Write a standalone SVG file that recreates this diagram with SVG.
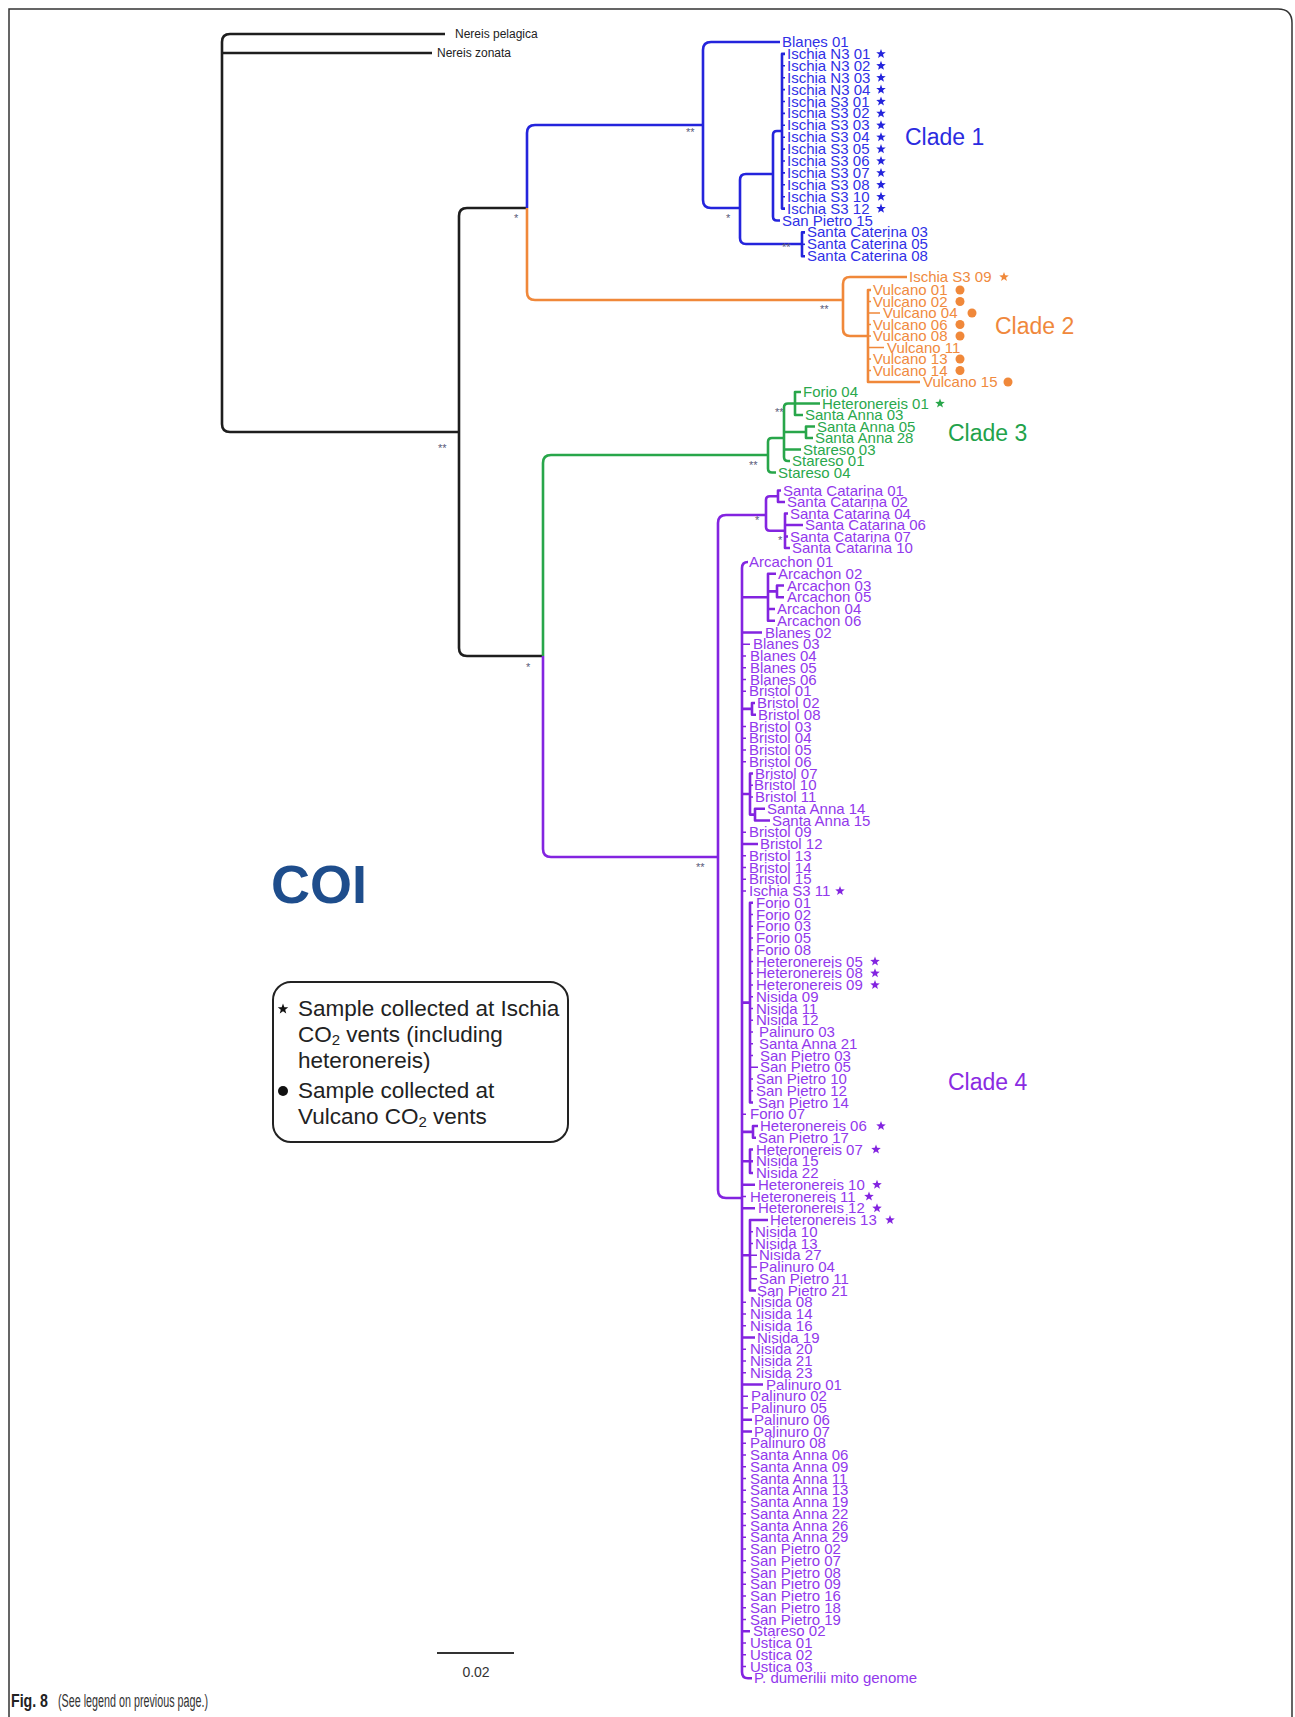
<svg xmlns="http://www.w3.org/2000/svg" xmlns:xlink="http://www.w3.org/1999/xlink" width="1295" height="1717" viewBox="0 0 1295 1717">
<defs>
<style>
.br{fill:none;stroke-width:2.6;stroke-linejoin:round}
.tk{fill:none;stroke-width:1.6}
.k{stroke:#1e1e1e}.bl{stroke:#2424dc}.or{stroke:#f0883a}.gr{stroke:#28a64a}.pu{stroke:#8324e0}
text{font-family:'Liberation Sans',Arial,sans-serif}
.lab{font-size:15px}
.tb{fill:#3030e6}.to{fill:#f08a40}.tg{fill:#2aa84c}.tpu{fill:#9238ec}
.sup{font-size:11px;fill:#5a5a78}
.clade{font-size:23px}
.leg{font-size:22.5px;fill:#222}
</style>
<polygon id="st" points="0,-5 1.23,-1.7 4.76,-1.55 2,0.65 2.94,4.05 0,2.1 -2.94,4.05 -2,0.65 -4.76,-1.55 -1.23,-1.7"/>
</defs>
<rect width="1295" height="1717" fill="#fff"/>
<path id="frame" d="M9 1717V9H1278Q1292 9 1292 23V1717" fill="none" stroke="#333" stroke-width="1.5"/>

<g id="connectors">
<path class="br k" d="M445 34H230Q222 34 222 42V424Q222 432 230 432H459"/>
<path class="br k" d="M222 53H432"/>
<path class="br k" d="M527 208H467Q459 208 459 216V648Q459 656 467 656H543"/>
<path class="br bl" d="M703 125H535Q527 125 527 133V208"/>
<path class="br bl" d="M780 42H711Q703 42 703 50V200Q703 208 711 208H740"/>
<path class="br bl" d="M773 174H746Q740 174 740 180V238Q740 244 746 244H802"/>
<path class="br bl" d="M782 131H777Q773 131 773 135V216.5Q773 220.5 777 220.5H780"/>
<path class="br bl" d="M785 53.9H782V208.6H785"/>
<path class="tk bl" d="M782 65.8h3M782 77.7h3M782 89.6h3M782 101.5h3M782 113.4h3M782 125.3h3M782 137.2h3M782 149.1h3M782 161h3M782 172.9h3M782 184.8h3M782 196.7h3"/>
<path class="br bl" d="M805 232.4H802V256.2H805"/>
<path class="tk bl" d="M802 244.3h3"/>
<path class="br or" d="M527 208V292Q527 300 535 300H843"/>
<path class="br or" d="M907 277H850Q843 277 843 284V329Q843 336 850 336H868"/>
<path class="br or" d="M871 290H868V382H920"/>
<path class="tk or" d="M868 301.5h3M868 313h12M868 324.5h3M868 336h3M868 347.5h16M868 359h3M868 370.5h3"/>
<path class="br gr" d="M543 656V463Q543 455 551 455H768"/>
<path class="br gr" d="M784 438H772Q768 438 768 442V468.5Q768 472.5 772 472.5H776"/>
<path class="br gr" d="M795 403.5H788Q784 403.5 784 407.5V457Q784 461 788 461H790M784 432H806M784 449.5H801"/>
<path class="br gr" d="M801 392H795V415H803M795 403.5H820"/>
<path class="br gr" d="M815 426.5H806V438H813"/>
<path class="br pu" d="M543 656V849Q543 857 551 857H718"/>
<path class="br pu" d="M766 515H726Q718 515 718 523V1190Q718 1198 726 1198H742"/>
<path class="br pu" d="M778 496.25H770Q766 496.25 766 500V527Q766 530.75 770 530.75H785"/>
<path class="br pu" d="M781 490.5H778V502H785"/>
<path class="br pu" d="M788 513.5H785V548H790M785 525H803M785 536.5H788"/>
<path class="br pu" d="M748 562Q742 562 742 568V1672Q742 1678.25 748 1678.25H752"/>
<path class="br pu" d="M742 597.25H768M776 573.75H768V620.75H775M768 609H775M768 591.4H777M784 585.5H777V597.25H784"/>
<path class="br pu" d="M742 708.9H752M755 703H752V714.75H756"/>
<path class="br pu" d="M742 794H750M753 773.5H750V814.6H755M765 808.75H755V820.5H770"/>
<path class="tk pu" d="M750 785.25h3M750 797h3"/>
<path class="br pu" d="M742 1002.6H750M753 902.75H750V1102.5H753"/>
<path class="tk pu" d="M750 914.5h3M750 926.25h3M750 938h3M750 949.75h3M750 961.5h3M750 973.25h3M750 985h3M750 996.75h3M750 1008.5h3M750 1020.25h3M750 1032h3M750 1043.75h3M750 1055.5h3M750 1067.25h8M750 1079h3M750 1090.75h3"/>
<path class="br pu" d="M742 1131.9H753M758 1126H753V1137.75H756"/>
<path class="br pu" d="M742 1161.25H753M753 1149.5H750V1173H753"/>
<path class="br pu" d="M742 1255.25H750M768 1220H750V1290.5H756"/>
<path class="tk pu" d="M750 1231.75h3M750 1243.5h3M750 1255.25h7M750 1267h7M750 1278.75h7"/>
<path class="br pu" d="M742 632.5H762M742 844H758M742 1184.75H755M742 1208.25H755M742 1337.5H755M742 1384.5H763M742 1419.75H752M742 1431.5H752M742 1631.25H750"/>
<path class="tk pu" d="M742 644.25h8M742 656h4M742 667.75h4M742 679.5h4M742 691.25h4M742 726.5h4M742 738.25h4M742 750h4M742 761.75h4M742 832.25h4M742 855.75h4M742 867.5h4M742 879.25h4M742 891h4M742 1114.25h4M742 1196.5h4M742 1302.25h4M742 1314h4M742 1325.75h4M742 1349.25h4M742 1361h4M742 1372.75h4M742 1396.25h6M742 1408h6M742 1443.25h4M742 1455h4M742 1466.75h4M742 1478.5h4M742 1490.25h4M742 1502h4M742 1513.75h4M742 1525.5h4M742 1537.25h4M742 1549h4M742 1560.75h4M742 1572.5h4M742 1584.25h4M742 1596h4M742 1607.75h4M742 1619.5h4M742 1643h4M742 1654.75h4M742 1666.5h4"/>
</g>

<g id="support-values" class="sup">
<text x="438" y="452">**</text>
<text x="514" y="222">*</text>
<text x="686" y="136">**</text>
<text x="726" y="222">*</text>
<text x="782" y="251">**</text>
<text x="820" y="313">**</text>
<text x="775" y="416">**</text>
<text x="749" y="469">**</text>
<text x="526" y="671">*</text>
<text x="696" y="871">**</text>
<text x="755" y="524">*</text>
<text x="778" y="544">*</text>
</g>

<g id="outgroup" style="font-size:12px;fill:#222">
<text x="455" y="38">Nereis pelagica</text>
<text x="437" y="57">Nereis zonata</text>
</g>

<g id="clade1" class="lab tb">
<text x="782" y="47">Blanes 01</text>
<text x="787" y="58.9">Ischia N3 01</text>
<text x="787" y="70.8">Ischia N3 02</text>
<text x="787" y="82.7">Ischia N3 03</text>
<text x="787" y="94.6">Ischia N3 04</text>
<text x="787" y="106.5">Ischia S3 01</text>
<text x="787" y="118.4">Ischia S3 02</text>
<text x="787" y="130.3">Ischia S3 03</text>
<text x="787" y="142.2">Ischia S3 04</text>
<text x="787" y="154.1">Ischia S3 05</text>
<text x="787" y="166">Ischia S3 06</text>
<text x="787" y="177.9">Ischia S3 07</text>
<text x="787" y="189.8">Ischia S3 08</text>
<text x="787" y="201.7">Ischia S3 10</text>
<text x="787" y="213.6">Ischia S3 12</text>
<text x="782" y="225.5">San Pietro 15</text>
<text x="807" y="237.4">Santa Caterina 03</text>
<text x="807" y="249.3">Santa Caterina 05</text>
<text x="807" y="261.2">Santa Caterina 08</text>
<g fill="#2424dc">
<use xlink:href="#st" x="881" y="53.9"/><use xlink:href="#st" x="881" y="65.8"/><use xlink:href="#st" x="881" y="77.7"/><use xlink:href="#st" x="881" y="89.6"/><use xlink:href="#st" x="881" y="101.5"/><use xlink:href="#st" x="881" y="113.4"/><use xlink:href="#st" x="881" y="125.3"/><use xlink:href="#st" x="881" y="137.2"/><use xlink:href="#st" x="881" y="149.1"/><use xlink:href="#st" x="881" y="161"/><use xlink:href="#st" x="881" y="172.9"/><use xlink:href="#st" x="881" y="184.8"/><use xlink:href="#st" x="881" y="196.7"/><use xlink:href="#st" x="881" y="208.6"/>
</g>
<text class="clade" x="905" y="145" fill="#2b2be0">Clade 1</text>
</g>

<g id="clade2" class="lab to">
<text x="909" y="282">Ischia S3 09</text>
<text x="873" y="295">Vulcano 01</text>
<text x="873" y="306.5">Vulcano 02</text>
<text x="883" y="318">Vulcano 04</text>
<text x="873" y="329.5">Vulcano 06</text>
<text x="873" y="341">Vulcano 08</text>
<text x="887" y="352.5">Vulcano 11</text>
<text x="873" y="364">Vulcano 13</text>
<text x="873" y="375.5">Vulcano 14</text>
<text x="923" y="387">Vulcano 15</text>
<use xlink:href="#st" x="1004" y="277" fill="#f0883a"/>
<g fill="#f0883a">
<circle cx="960" cy="290" r="4.5"/><circle cx="960" cy="301.5" r="4.5"/><circle cx="972" cy="313" r="4.5"/><circle cx="960" cy="324.5" r="4.5"/><circle cx="960" cy="336" r="4.5"/><circle cx="960" cy="359" r="4.5"/><circle cx="960" cy="370.5" r="4.5"/><circle cx="1008" cy="382" r="4.5"/>
</g>
<text class="clade" x="995" y="334" fill="#f0883c">Clade 2</text>
</g>

<g id="clade3" class="lab tg">
<text x="803" y="397">Forio 04</text>
<text x="822" y="408.5">Heteronereis 01</text>
<text x="805" y="420">Santa Anna 03</text>
<text x="817" y="431.5">Santa Anna 05</text>
<text x="815" y="443">Santa Anna 28</text>
<text x="803" y="454.5">Stareso 03</text>
<text x="792" y="466">Stareso 01</text>
<text x="778" y="477.5">Stareso 04</text>
<use xlink:href="#st" x="940" y="403.5" fill="#28a64a"/>
<text class="clade" x="948" y="441" fill="#22a24a">Clade 3</text>
</g>

<g id="clade4" class="lab tpu">
<text x="783" y="495.5">Santa Catarina 01</text>
<text x="787" y="507">Santa Catarina 02</text>
<text x="790" y="518.5">Santa Catarina 04</text>
<text x="805" y="530">Santa Catarina 06</text>
<text x="790" y="541.5">Santa Catarina 07</text>
<text x="792" y="553">Santa Catarina 10</text>
<text x="749" y="567">Arcachon 01</text>
<text x="778" y="578.75">Arcachon 02</text>
<text x="787" y="590.5">Arcachon 03</text>
<text x="787" y="602.25">Arcachon 05</text>
<text x="777" y="614">Arcachon 04</text>
<text x="777" y="625.75">Arcachon 06</text>
<text x="765" y="637.5">Blanes 02</text>
<text x="753" y="649.25">Blanes 03</text>
<text x="750" y="661">Blanes 04</text>
<text x="750" y="672.75">Blanes 05</text>
<text x="750" y="684.5">Blanes 06</text>
<text x="749" y="696.25">Bristol 01</text>
<text x="757" y="708">Bristol 02</text>
<text x="758" y="719.75">Bristol 08</text>
<text x="749" y="731.5">Bristol 03</text>
<text x="749" y="743.25">Bristol 04</text>
<text x="749" y="755">Bristol 05</text>
<text x="749" y="766.75">Bristol 06</text>
<text x="755" y="778.5">Bristol 07</text>
<text x="754" y="790.25">Bristol 10</text>
<text x="755" y="802">Bristol 11</text>
<text x="767" y="813.75">Santa Anna 14</text>
<text x="772" y="825.5">Santa Anna 15</text>
<text x="749" y="837.25">Bristol 09</text>
<text x="760" y="849">Bristol 12</text>
<text x="749" y="860.75">Bristol 13</text>
<text x="749" y="872.5">Bristol 14</text>
<text x="749" y="884.25">Bristol 15</text>
<text x="749" y="896">Ischia S3 11</text>
<text x="756" y="907.75">Forio 01</text>
<text x="756" y="919.5">Forio 02</text>
<text x="756" y="931.25">Forio 03</text>
<text x="756" y="943">Forio 05</text>
<text x="756" y="954.75">Forio 08</text>
<text x="756" y="966.5">Heteronereis 05</text>
<text x="756" y="978.25">Heteronereis 08</text>
<text x="756" y="990">Heteronereis 09</text>
<text x="756" y="1001.75">Nisida 09</text>
<text x="756" y="1013.5">Nisida 11</text>
<text x="756" y="1025.25">Nisida 12</text>
<text x="759" y="1037">Palinuro 03</text>
<text x="759" y="1048.75">Santa Anna 21</text>
<text x="760" y="1060.5">San Pietro 03</text>
<text x="760" y="1072.25">San Pietro 05</text>
<text x="756" y="1084">San Pietro 10</text>
<text x="756" y="1095.75">San Pietro 12</text>
<text x="758" y="1107.5">San Pietro 14</text>
<text x="750" y="1119.25">Forio 07</text>
<text x="760" y="1131">Heteronereis 06</text>
<text x="758" y="1142.75">San Pietro 17</text>
<text x="756" y="1154.5">Heteronereis 07</text>
<text x="756" y="1166.25">Nisida 15</text>
<text x="756" y="1178">Nisida 22</text>
<text x="758" y="1189.75">Heteronereis 10</text>
<text x="750" y="1201.5">Heteronereis 11</text>
<text x="758" y="1213.25">Heteronereis 12</text>
<text x="770" y="1225">Heteronereis 13</text>
<text x="755" y="1236.75">Nisida 10</text>
<text x="755" y="1248.5">Nisida 13</text>
<text x="759" y="1260.25">Nisida 27</text>
<text x="759" y="1272">Palinuro 04</text>
<text x="759" y="1283.75">San Pietro 11</text>
<text x="757" y="1295.5">San Pietro 21</text>
<text x="750" y="1307.25">Nisida 08</text>
<text x="750" y="1319">Nisida 14</text>
<text x="750" y="1330.75">Nisida 16</text>
<text x="757" y="1342.5">Nisida 19</text>
<text x="750" y="1354.25">Nisida 20</text>
<text x="750" y="1366">Nisida 21</text>
<text x="750" y="1377.75">Nisida 23</text>
<text x="766" y="1389.5">Palinuro 01</text>
<text x="751" y="1401.25">Palinuro 02</text>
<text x="751" y="1413">Palinuro 05</text>
<text x="754" y="1424.75">Palinuro 06</text>
<text x="754" y="1436.5">Palinuro 07</text>
<text x="750" y="1448.25">Palinuro 08</text>
<text x="750" y="1460">Santa Anna 06</text>
<text x="750" y="1471.75">Santa Anna 09</text>
<text x="750" y="1483.5">Santa Anna 11</text>
<text x="750" y="1495.25">Santa Anna 13</text>
<text x="750" y="1507">Santa Anna 19</text>
<text x="750" y="1518.75">Santa Anna 22</text>
<text x="750" y="1530.5">Santa Anna 26</text>
<text x="750" y="1542.25">Santa Anna 29</text>
<text x="750" y="1554">San Pietro 02</text>
<text x="750" y="1565.75">San Pietro 07</text>
<text x="750" y="1577.5">San Pietro 08</text>
<text x="750" y="1589.25">San Pietro 09</text>
<text x="750" y="1601">San Pietro 16</text>
<text x="750" y="1612.75">San Pietro 18</text>
<text x="750" y="1624.5">San Pietro 19</text>
<text x="753" y="1636.25">Stareso 02</text>
<text x="750" y="1648">Ustica 01</text>
<text x="750" y="1659.75">Ustica 02</text>
<text x="750" y="1671.5">Ustica 03</text>
<text x="754" y="1683.25">P. dumerilii mito genome</text>
<g fill="#8324e0">
<use xlink:href="#st" x="840" y="891"/><use xlink:href="#st" x="875" y="961.5"/><use xlink:href="#st" x="875" y="973.25"/><use xlink:href="#st" x="875" y="985"/><use xlink:href="#st" x="881" y="1126"/><use xlink:href="#st" x="876" y="1149.5"/><use xlink:href="#st" x="877" y="1184.75"/><use xlink:href="#st" x="869" y="1196.5"/><use xlink:href="#st" x="877" y="1208.25"/><use xlink:href="#st" x="890" y="1220"/>
</g>
<text class="clade" x="948" y="1090" fill="#8a2be2">Clade 4</text>
</g>

<g id="title">
<text x="271" y="903" font-size="54" font-weight="bold" fill="#1e4d8c">COI</text>
</g>

<g id="legend">
<rect x="273" y="982" width="295" height="160" rx="18" fill="none" stroke="#222" stroke-width="2"/>
<use xlink:href="#st" transform="translate(283 1009) scale(1.1)" fill="#111"/>
<text class="leg" x="298" y="1016">Sample collected at Ischia</text>
<text class="leg" x="298" y="1042">CO<tspan font-size="15" dy="3">2</tspan><tspan dy="-3"> vents (including</tspan></text>
<text class="leg" x="298" y="1068">heteronereis)</text>
<circle cx="283" cy="1091" r="5" fill="#111"/>
<text class="leg" x="298" y="1098">Sample collected at</text>
<text class="leg" x="298" y="1124">Vulcano CO<tspan font-size="15" dy="3">2</tspan><tspan dy="-3"> vents</tspan></text>
</g>

<g id="scale-bar">
<path d="M437 1653H514" stroke="#333" stroke-width="2"/>
<text x="476" y="1677" font-size="14" fill="#333" text-anchor="middle">0.02</text>
</g>

<g id="caption">
<text x="11" y="1707" font-size="18" font-weight="bold" fill="#222" textLength="37" lengthAdjust="spacingAndGlyphs">Fig. 8</text>
<text x="58" y="1707" font-size="18" fill="#333" textLength="150" lengthAdjust="spacingAndGlyphs">(See legend on previous page.)</text>
</g>
</svg>
